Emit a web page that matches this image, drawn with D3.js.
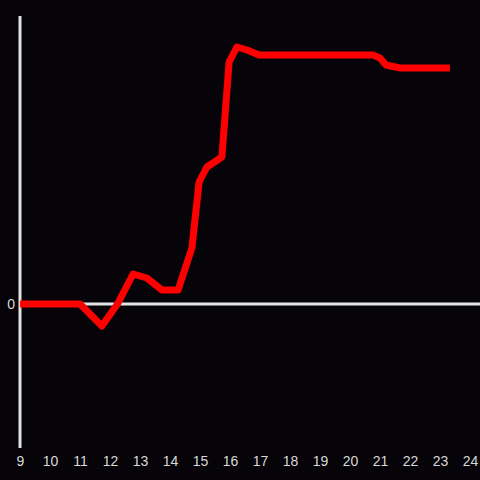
<!DOCTYPE html>
<html>
<head>
<meta charset="utf-8">
<script src="https://cdn.jsdelivr.net/npm/d3@7"></script>
<style>
  html, body { margin: 0; padding: 0; background: #060408; }
  svg { display: block; }
  .tick text { fill: #d8d8d8; font-family: "Liberation Sans", Arial, sans-serif; font-size: 14px; }
</style>
</head>
<body>
<div id="chart"></div>
<script>
"use strict";

// hour of day and level (arbitrary units, 0 = baseline)
var hours = [9, 11, 11.73, 12.25, 12.77, 13.23, 13.73, 14.27, 14.73, 14.97, 15.23, 15.73,
  15.97, 16.23, 16.57, 16.97, 20.77, 21.0, 21.2, 21.67, 23.33];
var levels = [0, 0, -22, 0, 30, 26, 14, 14, 56, 122, 137, 147,
  242, 257, 254, 249, 249, 246, 239, 236, 236];
var xTicks = [9, 10, 11, 12, 13, 14, 15, 16, 17, 18, 19, 20, 21, 22, 23, 24];
var yTicks = [0];

draw(document.getElementById("chart"), { width: 480, height: 480 });

function draw(element, size) {
  var margin = { top: 16, right: 10, bottom: 32, left: 20 },
    width = size.width - margin.left - margin.right,
    height = size.height - margin.top - margin.bottom;

  var x = d3.scaleLinear().domain([9, 24]).range([0, 450]);
  var y = d3.scaleLinear().domain([-144, 288]).range([height, 0]);

  var svg = d3
    .select(element)
    .append("svg")
    .attr("width", size.width)
    .attr("height", size.height)
    .style("background", "#060408")
    .append("g")
    .attr("transform", "translate(" + margin.left + "," + margin.top + ")");

  var data = hours.map(function(h, i) {
    return { x: h, y: levels[i] };
  });

  // zero line
  svg
    .append("line")
    .attr("x1", 0)
    .attr("x2", size.width - margin.left)
    .attr("y1", y(0))
    .attr("y2", y(0))
    .style("stroke", "#e2e2e2")
    .style("stroke-width", 3);

  var xAxis = svg
    .append("g")
    .attr("transform", "translate(0," + height + ")")
    .call(d3.axisBottom(x).tickValues(xTicks).tickSize(0).tickPadding(8).tickFormat(d3.format("d")));
  xAxis.select(".domain").remove();

  var yAxis = svg
    .append("g")
    .call(d3.axisLeft(y).tickValues(yTicks).tickSize(0).tickPadding(5));
  yAxis.select(".domain").remove();

  // left axis line
  svg
    .append("line")
    .attr("x1", 0)
    .attr("x2", 0)
    .attr("y1", 0)
    .attr("y2", height)
    .style("stroke", "#e2e2e2")
    .style("stroke-width", 3);

  var line = d3
    .line()
    .x(function(d) { return x(d.x); })
    .y(function(d) { return y(d.y); });

  svg
    .append("path")
    .datum(data)
    .attr("d", line)
    .style("fill", "none")
    .style("stroke", "#ff0000")
    .style("stroke-width", 7)
    .style("stroke-linejoin", "round");
}
</script>
</body>
</html>
